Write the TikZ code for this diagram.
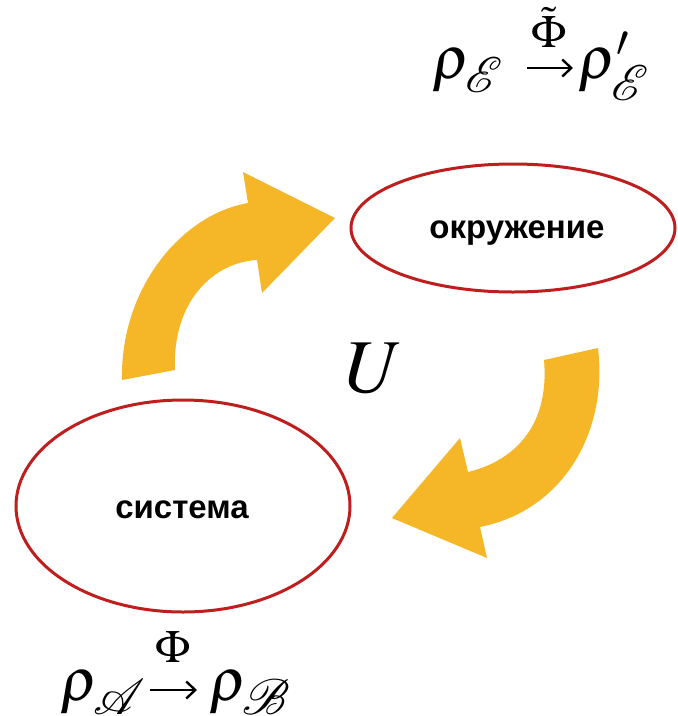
\documentclass[tikz,border=0pt]{standalone}
\usetikzlibrary{arrows.meta}
\usepackage{mathptmx}
\DeclareFontFamily{U}{rsfs}{\skewchar\font127 }
\DeclareFontShape{U}{rsfs}{m}{n}{<-> rsfs10}{}
\usepackage{mathrsfs}
\usepackage{fontspec}
\newfontfamily\lsans{Liberation Sans}
\definecolor{arrowor}{RGB}{245,182,40}
\definecolor{ellred}{RGB}{190,30,30}
\newcommand{\subsc}[1]{\hbox{\fontsize{50}{54}\selectfont$\mathscr{#1}$}}
\tikzset{
  bigarrow/.style={fill=arrowor, draw=none},
  oval/.style={draw=ellred, line width=3pt, fill=white},
  lbl/.style={font=\lsans\bfseries\fontsize{33}{38}\selectfont, anchor=base, inner sep=0pt},
  frm/.style={font=\fontsize{60}{64}\selectfont, anchor=base west, inner sep=0pt},
  maparr/.style={line width=2.4pt, -{Straight Barb[length=9pt,width=17pt,line width=2.4pt]}},
  mapname/.style={font=\fontsize{46}{50}\selectfont, anchor=base, inner sep=0pt}
}
\begin{document}
\begin{tikzpicture}[x=1pt,y=-1pt]
\useasboundingbox (0,0) rectangle (678,716);
\fill[white] (0,0) rectangle (678,716);
% ellipses
\draw[oval] (513,228) ellipse [x radius=162, y radius=64];
\draw[oval] (183,506) ellipse [x radius=167, y radius=106];
% arrows
\fill[bigarrow] (122,380) .. controls (120,290) and (180,215) .. (248,203)
  -- (243,172) -- (335,218) -- (262,293) -- (257,260)
  .. controls (215,262) and (172,300) .. (175,370) -- cycle;
\fill[bigarrow] (544,360) -- (598,348) .. controls (608,430) and (565,510) .. (480,527)
  -- (487,558) -- (392,518) -- (460,438) -- (468,472)
  .. controls (510,462) and (550,430) .. (544,360) -- cycle;
% labels
\node[lbl] (env) at (517,238) {окружение};
\node[lbl] (sys) at (182,518) {система};
\node[anchor=base, inner sep=0pt, font=\fontsize{76}{86}\selectfont] (u) at (374,392) {$U$};
% top formula
\node[frm] (rhoE) at (432,78) {$\rho_{\subsc{E}}$};
\coordinate (arrTs) at (527,68);
\coordinate (arrTe) at (573,68);
\draw[maparr] (arrTs) -- (arrTe);
\node[mapname] (phiT) at (549,47) {$\tilde\Phi$};
\node[frm] (rhoEp) at (578,78) {$\rho'_{\subsc{E}}$};
% bottom formula
\coordinate (arrBs) at (150,690);
\coordinate (arrBe) at (197,690);
\node[frm] (rhoA) at (60,700) {$\rho_{\subsc{A}}$};
\draw[maparr] (arrBs) -- (arrBe);
\node[mapname] (phiB) at (173,662) {$\Phi$};
\node[frm] (rhoB) at (209,700) {$\rho_{\subsc{B}}$};
\end{tikzpicture}
\end{document}
